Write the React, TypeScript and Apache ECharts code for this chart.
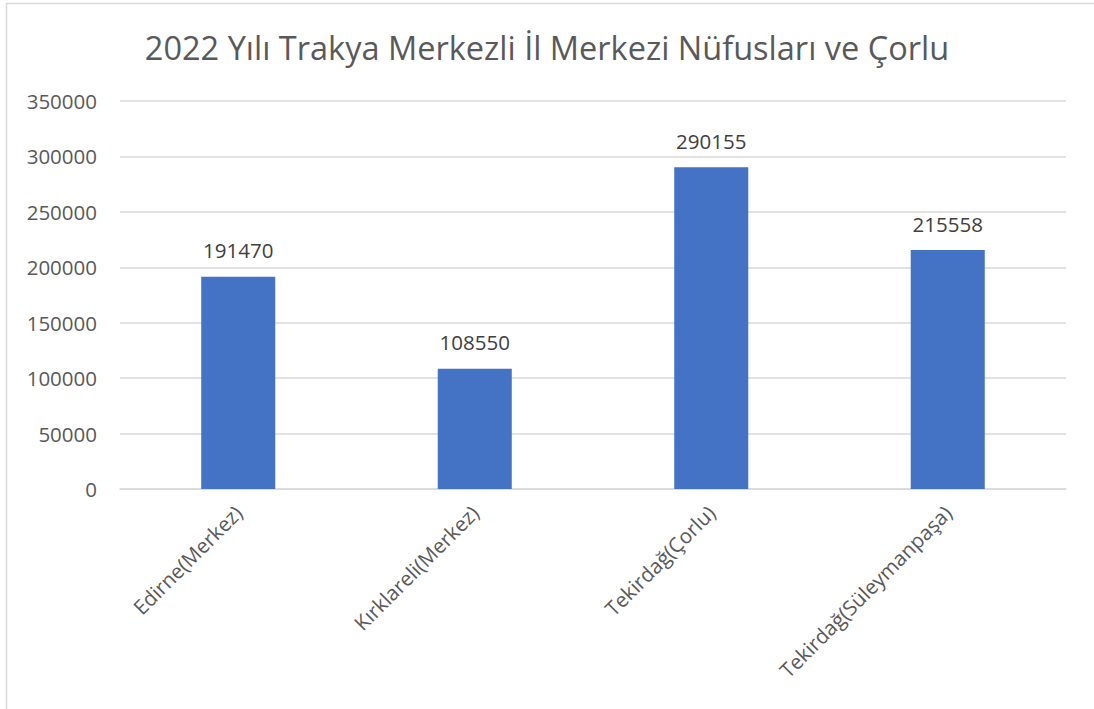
import React, { useEffect, useRef } from "react";
import * as echarts from "echarts";

const categories = ["Edirne(Merkez)", "Kırklareli(Merkez)", "Tekirdağ(Çorlu)", "Tekirdağ(Süleymanpaşa)"];
const values = [191470, 108550, 290155, 215558];
const titleText = "2022 Yılı Trakya Merkezli İl Merkezi Nüfusları ve Çorlu";

export default function App() {
  const ref = useRef<HTMLDivElement>(null);
  useEffect(() => {
    if (!ref.current) return;
    const chart = echarts.init(ref.current, null, { renderer: "svg" });
    const font = "'Open Sans', 'Noto Sans', sans-serif";
    chart.setOption({
      animation: false,
      backgroundColor: "#ffffff",
      title: {
        text: titleText,
        left: "center",
        top: 26,
        textStyle: { fontFamily: font, fontSize: 32.5, fontWeight: "normal", color: "#595959" },
      },
      graphic: [
        {
          type: "rect",
          shape: { x: 6.5, y: 3.5, width: 1200, height: 800 },
          style: { fill: "none", stroke: "#d9d9d9", lineWidth: 1.5 },
          silent: true,
        },
      ],
      grid: { left: 120, right: 28, top: 101, bottom: 220, containLabel: false },
      xAxis: {
        type: "category",
        data: categories,
        axisLine: { lineStyle: { color: "#d9d9d9", width: 1.5 } },
        axisTick: { show: false },
        axisLabel: {
          rotate: 45,
          interval: 0,
          margin: 20,
          fontFamily: font,
          fontSize: 20.5,
          color: "#595959",
        },
      },
      yAxis: {
        type: "value",
        min: 0,
        max: 350000,
        interval: 50000,
        axisLine: { show: false },
        axisTick: { show: false },
        splitLine: { lineStyle: { color: "#d9d9d9", width: 1.5 } },
        axisLabel: {
          fontFamily: font,
          fontSize: 20.5,
          color: "#595959",
          margin: 23,
          formatter: (v: number) => String(v),
        },
      },
      series: [
        {
          type: "bar",
          data: values,
          barWidth: "31.3%",
          itemStyle: { color: "#4472c4" },
          label: {
            show: true,
            position: "top",
            distance: 16,
            fontFamily: font,
            fontSize: 20.5,
            color: "#404040",
          },
        },
      ],
    });
    return () => chart.dispose();
  }, []);
  return (
    <div
      ref={ref}
      style={{ position: "fixed", left: 0, top: 0, width: 1094, height: 709 }}
    />
  );
}
